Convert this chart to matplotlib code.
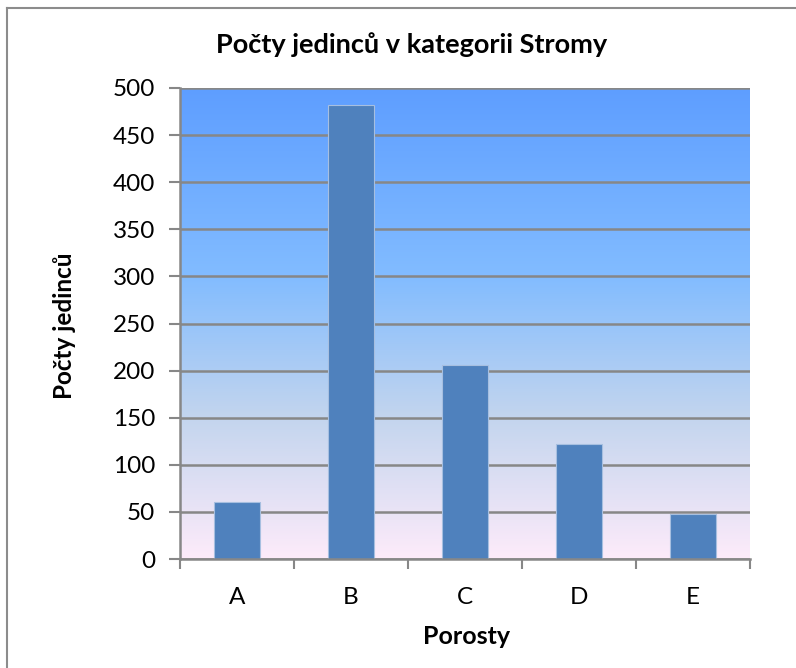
import matplotlib
matplotlib.use("Agg")
import matplotlib.pyplot as plt
from matplotlib.colors import LinearSegmentedColormap
import numpy as np

plt.rcParams['font.family'] = ['Lato', 'DejaVu Sans']

categories = ['A', 'B', 'C', 'D', 'E']
values = [61, 482, 206, 122, 48]
yticks = [0, 50, 100, 150, 200, 250, 300, 350, 400, 450, 500]

W, H = 796, 668
fig = plt.figure(figsize=(W / 100, H / 100), dpi=100)

# outer chart border (cropped on right / bottom)
fig.add_artist(plt.Line2D([7 / W, 7 / W], [0, 1 - 8 / H], color='#8c8c8c', lw=1.5))
fig.add_artist(plt.Line2D([7 / W, 1], [1 - 8 / H, 1 - 8 / H], color='#8c8c8c', lw=1.5))

ax = fig.add_axes([180 / W, 1 - 559 / H, 570 / W, 471 / H])

# gradient background of plot area
cmap = LinearSegmentedColormap.from_list(
    'bg', [(0.0, '#fdebfa'), (0.3, '#c3d5ee'), (0.6, '#82bcff'), (1.0, '#5e9eff')])
grad = np.linspace(0, 1, 256).reshape(-1, 1)
ax.imshow(grad, extent=[0, 1, 0, 1], transform=ax.transAxes, aspect='auto',
          cmap=cmap, origin='lower', zorder=0)

x = np.arange(len(categories))
ax.bar(x, values, width=0.4, color='#4f81bd', edgecolor='#a7bfe0', linewidth=0.8, zorder=3)

ax.set_xlim(-0.5, len(categories) - 0.5)
ax.set_ylim(0, 500)
ax.set_yticks(yticks)
ax.set_yticklabels([str(t) for t in yticks], fontsize=17.5)
ax.yaxis.grid(True, color='#878787', lw=1.8, zorder=1)
ax.set_axisbelow(True)

# x ticks between categories, labels at category centres
ax.set_xticks(np.arange(len(categories) + 1) - 0.5)
ax.set_xticklabels([])
ax.set_xticks(x, minor=True)
ax.set_xticklabels(categories, minor=True, fontsize=17.5)
ax.tick_params(axis='x', which='minor', length=0, pad=20)
ax.tick_params(axis='x', which='major', direction='out', length=7, width=1.5, color='#878787')
ax.tick_params(axis='y', direction='out', length=8, width=1.5, color='#878787', pad=10)

for s in ['top', 'right']:
    ax.spines[s].set_visible(False)
for s in ['left', 'bottom']:
    ax.spines[s].set_color('#878787')
    ax.spines[s].set_linewidth(1.8)
    ax.spines[s].set_zorder(4)

fig.text(412 / W, 1 - 45 / H, 'Počty jedinců v kategorii Stromy', fontsize=19.5,
         fontweight='bold', ha='center', va='center')
fig.text(467 / W, 1 - 636 / H, 'Porosty', fontsize=18, fontweight='bold',
         ha='center', va='center')
fig.text(64 / W, 1 - 326 / H, 'Počty jedinců', fontsize=17.5, fontweight='bold',
         ha='center', va='center', rotation=90)

fig.savefig('out.png', dpi=100)
